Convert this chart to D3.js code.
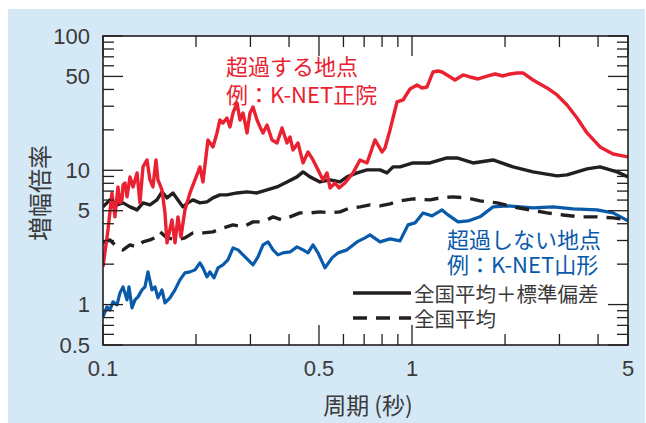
<!DOCTYPE html>
<html>
<head>
<meta charset="utf-8">
<script src="https://cdn.jsdelivr.net/npm/d3@7"></script>
<style>
  html, body { margin: 0; padding: 0; background: #fff; }
  svg { display: block; }
</style>
</head>
<body>
<svg id="chart" width="646" height="423"></svg>
<script>
// Amplification factor vs. period (s)

// Exceeding site (K-NET 正院)
const redPeriod = [0.1, 0.1038, 0.1069, 0.1093, 0.1118, 0.1135, 0.1152, 0.1161, 0.1178, 0.1196, 0.1223, 0.1251, 0.1289, 0.1317, 0.1347, 0.1388, 0.1419, 0.1451, 0.1484, 0.1506, 0.1552, 0.1587, 0.1611, 0.1672, 0.1710, 0.1748, 0.1788, 0.1841, 0.1912, 0.1985, 0.2059, 0.2106, 0.2186, 0.2269, 0.2338, 0.2390, 0.2444, 0.2518, 0.2576, 0.2635, 0.2715, 0.2776, 0.2839, 0.2925, 0.2990, 0.3058, 0.3151, 0.3222, 0.3295, 0.3395, 0.3523, 0.3657, 0.3796, 0.3940, 0.4028, 0.4119, 0.4276, 0.4439, 0.4607, 0.4782, 0.4964, 0.5152, 0.5308, 0.5428, 0.5634, 0.5805, 0.6069, 0.6443, 0.6787, 0.7152, 0.7590, 0.7997, 0.8177, 0.8488, 0.8944, 0.9352, 0.9852, 1.0381, 1.0774, 1.1184, 1.1695, 1.2140, 1.2506, 1.298, 1.3778, 1.4625, 1.5406, 1.6355, 1.762, 1.8563, 1.9703, 2.0757, 2.1872, 2.287, 2.464, 2.735, 2.947, 3.175, 3.420, 3.685, 4.059, 4.473, 5.0];
const redAmp = [1.91, 3.60, 6.79, 4.50, 7.52, 5.72, 6.02, 7.78, 8.05, 6.34, 8.93, 7.52, 9.56, 5.72, 10.60, 11.94, 8.48, 7.52, 11.94, 8.48, 7.14, 4.82, 2.88, 4.27, 2.88, 4.50, 3.19, 5.07, 6.78, 8.48, 10.60, 8.19, 16.83, 14.92, 18.97, 23.70, 22.51, 24.52, 21.03, 26.72, 31.72, 23.70, 26.72, 18.97, 26.72, 29.62, 23.70, 21.03, 18.97, 21.75, 16.83, 15.98, 20.67, 15.98, 17.71, 14.17, 15.98, 11.34, 13.70, 11.94, 10.07, 8.48, 9.56, 7.39, 8.05, 7.39, 8.05, 9.56, 11.94, 11.34, 16.83, 13.70, 14.67, 19.97, 32.27, 33.39, 40.32, 43.18, 41.02, 41.73, 53.96, 54.89, 53.96, 51.25, 47.04, 51.25, 49.52, 47.86, 50.38, 52.13, 50.38, 52.13, 53.04, 53.04, 47.04, 41.02, 36.38, 30.65, 24.52, 18.97, 14.92, 13.23, 12.57];

// Non-exceeding site (K-NET 山形)
const bluePeriod = [0.1, 0.1030, 0.1053, 0.1077, 0.1110, 0.1135, 0.1161, 0.1196, 0.1214, 0.1241, 0.1269, 0.1298, 0.1337, 0.1367, 0.1398, 0.1440, 0.1473, 0.1506, 0.1552, 0.1587, 0.1647, 0.1710, 0.1774, 0.1841, 0.1912, 0.1985, 0.2059, 0.2106, 0.2170, 0.2219, 0.2286, 0.2356, 0.2444, 0.2537, 0.2635, 0.2735, 0.2839, 0.2947, 0.3058, 0.3174, 0.3295, 0.3420, 0.3550, 0.3685, 0.3824, 0.4028, 0.4244, 0.4439, 0.4607, 0.4782, 0.4964, 0.5229, 0.5510, 0.5762, 0.6161, 0.6638, 0.7045, 0.7312, 0.7878, 0.8488, 0.9145, 0.9708, 1.0226, 1.0855, 1.1608, 1.2506, 1.3079, 1.409, 1.518, 1.6598, 1.8289, 2.030, 2.2363, 2.464, 2.860, 3.320, 3.970, 4.473, 5.0];
const blueAmp = [0.810, 0.961, 0.913, 1.048, 0.995, 1.222, 1.355, 1.084, 1.355, 0.945, 1.084, 1.141, 1.287, 1.355, 1.752, 1.287, 1.355, 1.122, 1.287, 1.030, 1.122, 1.287, 1.528, 1.722, 1.752, 1.813, 2.044, 1.877, 1.608, 1.752, 1.581, 1.877, 1.975, 2.152, 2.644, 2.555, 2.345, 2.152, 1.975, 2.266, 2.783, 2.930, 2.555, 2.345, 2.427, 2.466, 2.690, 2.555, 2.427, 2.783, 2.427, 1.877, 2.227, 2.427, 2.555, 2.930, 3.138, 3.303, 2.930, 3.084, 2.980, 3.921, 4.058, 4.816, 4.575, 5.07, 4.654, 4.128, 4.199, 4.50, 5.34, 5.43, 5.34, 5.247, 5.34, 5.158, 5.07, 4.816, 4.199];

// National mean + standard deviation
const sdPeriod = [0.1, 0.1053, 0.1110, 0.1161, 0.1223, 0.1289, 0.1347, 0.1419, 0.1495, 0.1552, 0.1611, 0.1684, 0.1748, 0.1814, 0.1883, 0.1955, 0.2059, 0.2170, 0.2269, 0.2390, 0.2518, 0.2715, 0.2925, 0.3151, 0.3395, 0.3657, 0.3940, 0.4244, 0.4439, 0.4676, 0.5038, 0.5428, 0.5847, 0.6161, 0.6638, 0.7152, 0.7878, 0.8301, 0.8681, 0.9145, 1.0075, 1.1435, 1.298, 1.3986, 1.5756, 1.8289, 2.1228, 2.464, 2.947, 3.175, 3.685, 4.059, 4.608, 5.0];
const sdAmp = [5.34, 6.02, 5.52, 5.72, 5.34, 5.07, 5.72, 5.52, 6.02, 6.90, 6.23, 6.78, 6.02, 5.34, 5.72, 6.02, 5.72, 5.82, 6.23, 6.56, 6.56, 6.78, 6.90, 6.78, 7.14, 7.52, 8.19, 8.93, 9.73, 8.93, 8.19, 8.48, 8.19, 8.93, 9.56, 10.07, 10.07, 9.56, 10.60, 10.60, 11.34, 11.34, 12.36, 12.36, 11.34, 11.94, 10.60, 9.73, 9.08, 9.24, 10.24, 10.60, 9.73, 8.93];

// National mean
const meanPeriod = [0.1, 0.1053, 0.1110, 0.1161, 0.1223, 0.1289, 0.1347, 0.1419, 0.1495, 0.1529, 0.1611, 0.1735, 0.1841, 0.1955, 0.2106, 0.2269, 0.2444, 0.2635, 0.2839, 0.3058, 0.3295, 0.3550, 0.3796, 0.4028, 0.4340, 0.4676, 0.5038, 0.5428, 0.5847, 0.6300, 0.6787, 0.7312, 0.7878, 0.8488, 0.9145, 1.0075, 1.1435, 1.232, 1.3574, 1.5068, 1.6598, 1.8843, 2.1228, 2.4093, 2.735, 3.081, 3.4972, 3.970, 4.473, 5.0];
const meanAmp = [2.88, 3.03, 2.69, 2.55, 2.78, 2.69, 2.93, 3.03, 3.19, 3.48, 3.14, 3.03, 3.14, 3.42, 3.42, 3.48, 3.72, 3.92, 3.79, 4.13, 4.13, 4.50, 4.27, 4.50, 4.82, 4.82, 4.90, 4.82, 4.90, 5.25, 5.34, 5.52, 5.43, 5.62, 5.92, 6.12, 6.02, 6.23, 6.34, 6.23, 5.92, 5.72, 5.34, 5.07, 4.82, 4.65, 4.50, 4.50, 4.42, 4.27];

const xTickValues = [0.1, 0.5, 1, 5];
const xTickLabels = ["0.1", "0.5", "1", "5"];
const yTickValues = [0.5, 1, 5, 10, 50, 100];
const yTickLabels = ["0.5", "1", "5", "10", "50", "100"];

const xTitle = "周期 (秒)";
const yTitle = "増幅倍率";
const redNote = ["超過する地点", "例：K-NET正院"];
const blueNote = ["超過しない地点", "例：K-NET山形"];
const legendLabels = ["全国平均＋標準偏差", "全国平均"];

const colors = { red: "#ea2130", blue: "#0a5aab", black: "#231f20", text: "#3a3a3a", bg: "#d4e8f6" };
const cjk = "'Noto Sans CJK JP', 'Noto Sans', sans-serif";
const num = "'Liberation Sans', Arial, sans-serif";

const svg = d3.select("#chart");
const plot = { left: 103, right: 628, top: 36, bottom: 345 };

svg.append("rect").attr("x", 8).attr("y", 9).attr("width", 637).attr("height", 414)
  .attr("fill", colors.bg);
svg.append("rect").attr("x", plot.left).attr("y", plot.top)
  .attr("width", plot.right - plot.left).attr("height", plot.bottom - plot.top)
  .attr("fill", "#fff");

const x = d3.scaleLog().domain([0.1, 5]).range([plot.left, plot.right]);
const y = d3.scaleLog().domain([0.5, 100]).range([plot.bottom, plot.top]);

svg.append("clipPath").attr("id", "clip").append("rect")
  .attr("x", plot.left).attr("y", plot.top)
  .attr("width", plot.right - plot.left).attr("height", plot.bottom - plot.top);

const line = d3.line().x(d => x(d[0])).y(d => y(d[1]));
const zip = (a, b) => a.map((v, i) => [v, b[i]]);

const lines = svg.append("g").attr("clip-path", "url(#clip)")
  .attr("fill", "none").attr("stroke-linejoin", "round");

lines.append("path").attr("d", line(zip(bluePeriod, blueAmp)))
  .attr("stroke", colors.blue).attr("stroke-width", 3.2);
lines.append("path").attr("d", line(zip(meanPeriod, meanAmp)))
  .attr("stroke", colors.black).attr("stroke-width", 3.4).attr("stroke-dasharray", "14,9");
lines.append("path").attr("d", line(zip(sdPeriod, sdAmp)))
  .attr("stroke", colors.black).attr("stroke-width", 3.4);
lines.append("path").attr("d", line(zip(redPeriod, redAmp)))
  .attr("stroke", colors.red).attr("stroke-width", 3.4);

// Inward ticks on all four sides
const major = 20, minor = 11;
const isMajorX = v => xTickValues.some(t => Math.abs(t - v) < 1e-9);
const isMajorY = v => yTickValues.some(t => Math.abs(t - v) < 1e-9);
const tickG = svg.append("g").attr("stroke", colors.black).attr("stroke-width", 1.3);
x.ticks().forEach(v => {
  const len = isMajorX(v) ? major : minor;
  const px = x(v);
  tickG.append("line").attr("x1", px).attr("x2", px).attr("y1", plot.bottom).attr("y2", plot.bottom - len);
  tickG.append("line").attr("x1", px).attr("x2", px).attr("y1", plot.top).attr("y2", plot.top + len);
});
y.ticks().forEach(v => {
  const len = isMajorY(v) ? major : minor;
  const py = y(v);
  tickG.append("line").attr("x1", plot.left).attr("x2", plot.left + len).attr("y1", py).attr("y2", py);
  tickG.append("line").attr("x1", plot.right).attr("x2", plot.right - len).attr("y1", py).attr("y2", py);
});

svg.append("rect").attr("x", plot.left).attr("y", plot.top)
  .attr("width", plot.right - plot.left).attr("height", plot.bottom - plot.top)
  .attr("fill", "none").attr("stroke", colors.black).attr("stroke-width", 1.6);

// Tick labels
svg.append("g").selectAll("text").data(xTickValues).join("text")
  .attr("x", d => x(d)).attr("y", 368)
  .attr("text-anchor", "middle").attr("dominant-baseline", "central")
  .attr("font-family", num).attr("font-size", 22).attr("fill", colors.text)
  .text((d, i) => xTickLabels[i]);
svg.append("g").selectAll("text").data(yTickValues).join("text")
  .attr("x", 90).attr("y", d => y(d))
  .attr("text-anchor", "end").attr("dominant-baseline", "central")
  .attr("font-family", num).attr("font-size", 22).attr("fill", colors.text)
  .text((d, i) => yTickLabels[i]);

// Axis titles
svg.append("text").attr("x", 368).attr("y", 404)
  .attr("text-anchor", "middle").attr("dominant-baseline", "central")
  .attr("font-family", cjk).attr("font-size", 23).attr("fill", colors.text)
  .text(xTitle);
svg.append("text").attr("transform", "translate(38,193) rotate(-90)")
  .attr("text-anchor", "middle").attr("dominant-baseline", "central")
  .attr("font-family", cjk).attr("font-size", 24).attr("fill", colors.text)
  .text(yTitle);

// Site annotations
redNote.forEach((t, i) => {
  svg.append("text").attr("x", 226).attr("y", 65 + i * 28)
    .attr("dominant-baseline", "central")
    .attr("font-family", cjk).attr("font-size", 22).attr("fill", colors.red).text(t);
});
blueNote.forEach((t, i) => {
  svg.append("text").attr("x", 447).attr("y", 238 + i * 25)
    .attr("dominant-baseline", "central")
    .attr("font-family", cjk).attr("font-size", 22).attr("fill", colors.blue).text(t);
});

// Legend
const legendY = [293, 318];
const dashes = [null, "14,9"];
legendLabels.forEach((t, i) => {
  svg.append("line").attr("x1", 353).attr("x2", 411)
    .attr("y1", legendY[i]).attr("y2", legendY[i])
    .attr("stroke", colors.black).attr("stroke-width", 3.4)
    .attr("stroke-dasharray", dashes[i]);
  svg.append("text").attr("x", 414).attr("y", legendY[i])
    .attr("dominant-baseline", "central")
    .attr("font-family", cjk).attr("font-size", 20.5).attr("fill", colors.text).text(t);
});
</script>
</body>
</html>
